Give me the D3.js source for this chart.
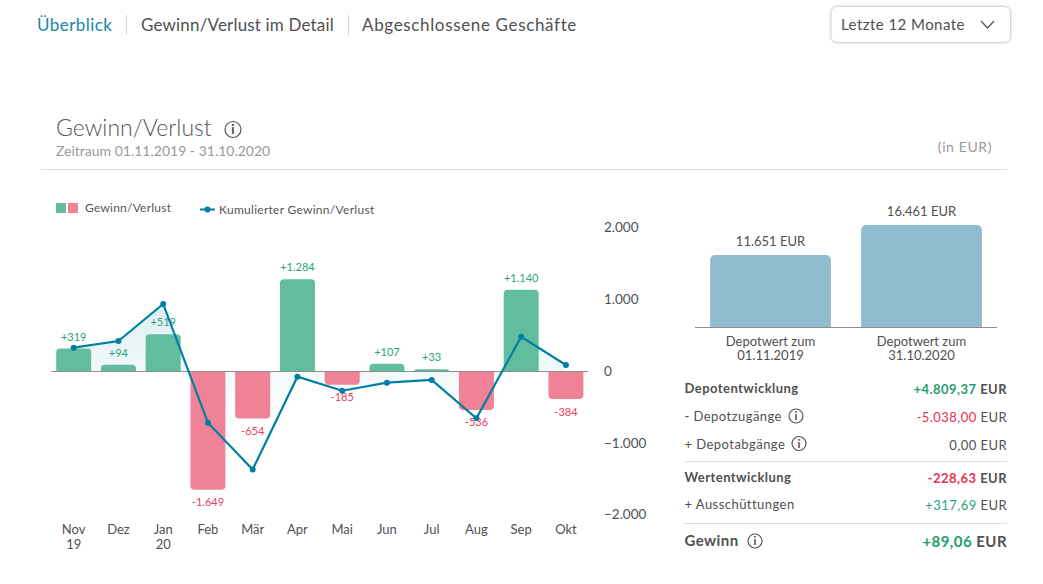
<!DOCTYPE html>
<html>
<head>
<meta charset="utf-8">
<script src="https://cdnjs.cloudflare.com/ajax/libs/d3/7.8.5/d3.min.js"></script>
<style>
  html, body { margin: 0; padding: 0; background: #fff; }
  svg { display: block; font-family: Lato, "Open Sans", sans-serif; }
</style>
</head>
<body>
<svg id="chart" width="1043" height="584"></svg>
<script>
// Data
const months = ["Nov|19", "Dez", "Jan|20", "Feb", "Mär", "Apr", "Mai", "Jun", "Jul", "Aug", "Sep", "Okt"];
const gainLoss = [319, 94, 519, -1649, -654, 1284, -185, 107, 33, -536, 1140, -384];
const cumulated = [332, 425, 941, -713, -1366, -72, -268, -156, -118, -652, 485, 91];
const yTicks = [2000, 1000, 0, -1000, -2000];
const yTickLabels = ["2.000", "1.000", "0", "−1.000", "−2.000"];

const depotLabels = ["Depotwert zum|01.11.2019", "Depotwert zum|31.10.2020"];
const depotValues = [11651, 16461];

const tabs = ["Überblick", "Gewinn/Verlust im Detail", "Abgeschlossene Geschäfte"];

const rowLabels = ["Depotentwicklung", "- Depotzugänge", "+ Depotabgänge", "Wertentwicklung", "+ Ausschüttungen", "Gewinn"];
const rowAmounts = ["+4.809,37", "-5.038,00", "0,00", "-228,63", "+317,69", "+89,06"];

const GREEN = "#62bd9e", RED = "#f08295", BLUE = "#007fa3", TEXT = "#505050", GREY = "#8e8e8e";
const TXT_GREEN = "#2ba37a", TXT_RED = "#e8405c";

const svg = d3.select("#chart");
const de = d3.formatLocale({ decimal: ",", thousands: ".", grouping: [3], currency: ["", " EUR"], minus: "-" });
const signed = de.format("+,d");

function label(x, y, str, size, color, anchor, weight) {
  return svg.append("text")
    .attr("x", x).attr("y", y).text(str)
    .attr("font-size", size).attr("fill", color)
    .attr("text-anchor", anchor || "start")
    .attr("font-weight", weight || 400);
}

function infoIcon(cx, cy, r) {
  svg.append("circle").attr("cx", cx).attr("cy", cy).attr("r", r)
    .attr("fill", "none").attr("stroke", "#555").attr("stroke-width", 1.2);
  label(cx, cy + r * 0.6, "i", r * 1.6, "#444", "middle", 700);
}

// header
const tabX = [37, 141, 362];
const tabSpacing = [0.45, 0.17, 0.65];
tabs.forEach((t, i) => label(tabX[i], 31, t, 17, i === 0 ? "#1a87a8" : TEXT).attr("letter-spacing", tabSpacing[i]));
[126.5, 348.5].forEach(x => svg.append("line").attr("x1", x).attr("x2", x).attr("y1", 15).attr("y2", 35).attr("stroke", "#d5d5d5"));

svg.append("rect").attr("x", 831).attr("y", 6.5).attr("width", 179.5).attr("height", 36).attr("rx", 6)
  .attr("fill", "#fff").attr("stroke", "#d8d8d8").style("filter", "drop-shadow(0 0 1px #ccc)");
label(841, 30, "Letzte 12 Monate", 15, TEXT).attr("letter-spacing", 0.45);
svg.append("path").attr("d", "M981,21 L987.5,28 L994,21").attr("fill", "none").attr("stroke", "#555").attr("stroke-width", 1.2);

// title block
label(56, 136, "Gewinn/Verlust", 23, "#555", "start", 300);
infoIcon(233, 129.5, 8);
label(56, 156, "Zeitraum 01.11.2019 - 31.10.2020", 14, "#999");
label(992, 152, "(in EUR)", 14, "#999", "end").attr("letter-spacing", 0.6);
svg.append("line").attr("x1", 41).attr("x2", 1007).attr("y1", 169.5).attr("y2", 169.5).attr("stroke", "#ddd");

// legend
svg.append("rect").attr("x", 56).attr("y", 203).attr("width", 10).attr("height", 10).attr("fill", GREEN);
svg.append("rect").attr("x", 68).attr("y", 203).attr("width", 10).attr("height", 10).attr("fill", RED);
label(85, 212, "Gewinn/Verlust", 12, "#555").attr("letter-spacing", 0.22);
svg.append("line").attr("x1", 200).attr("x2", 215).attr("y1", 209.5).attr("y2", 209.5).attr("stroke", BLUE).attr("stroke-width", 2);
svg.append("circle").attr("cx", 207.5).attr("cy", 209.5).attr("r", 3).attr("fill", BLUE);
label(219, 214, "Kumulierter Gewinn/Verlust", 12, "#555").attr("letter-spacing", 0.28);

// main chart
const x = d3.scaleBand().domain(months).range([51.3, 588.3]).paddingInner(0.218).paddingOuter(0.109);
const y = d3.scaleLinear().domain([-2000, 2000]).range([515, 228]);
const cx = (m) => x(m) + x.bandwidth() / 2;

const grad = svg.append("defs").append("linearGradient").attr("id", "areaFill")
  .attr("gradientUnits", "userSpaceOnUse")
  .attr("x1", 0).attr("x2", 0).attr("y1", y(d3.max(cumulated))).attr("y2", y(-600));
grad.append("stop").attr("offset", 0).attr("stop-color", BLUE).attr("stop-opacity", 0.13);
grad.append("stop").attr("offset", 1).attr("stop-color", BLUE).attr("stop-opacity", 0);

const area = d3.area().x((d, i) => cx(months[i])).y0(y(0)).y1(d => y(d));
svg.append("path").datum(cumulated).attr("d", area).attr("fill", "url(#areaFill)");

// bars with the outer corners rounded
function barPath(m, v) {
  const l = x(m), r = l + x.bandwidth(), b = y(0), t = y(v);
  const rad = Math.min(4, Math.abs(b - t));
  const s = v >= 0 ? 1 : 0;
  const e = v >= 0 ? t + rad : t - rad;
  return `M${l},${b}L${l},${e}A${rad},${rad} 0 0 ${s} ${l + rad},${t}L${r - rad},${t}A${rad},${rad} 0 0 ${s} ${r},${e}L${r},${b}Z`;
}
svg.selectAll(".bar").data(gainLoss).join("path").attr("class", "bar")
  .attr("d", (d, i) => barPath(months[i], d))
  .attr("fill", d => d >= 0 ? GREEN : RED);

svg.selectAll(".val").data(gainLoss).join("text").attr("class", "val")
  .attr("x", (d, i) => cx(months[i]))
  .attr("y", d => d >= 0 ? y(d) - 8 : y(d) + 16.5)
  .attr("text-anchor", "middle").attr("font-size", 11)
  .attr("fill", d => d >= 0 ? TXT_GREEN : TXT_RED)
  .text(d => d >= 0 ? signed(d) : de.format(",d")(d));

svg.append("line").attr("x1", 51).attr("x2", 588).attr("y1", y(0)).attr("y2", y(0)).attr("stroke", GREY).attr("stroke-width", 1);

const line = d3.line().x((d, i) => cx(months[i])).y(d => y(d));
svg.append("path").datum(cumulated).attr("d", line).attr("fill", "none").attr("stroke", BLUE).attr("stroke-width", 2.2);
svg.selectAll(".pt").data(cumulated).join("circle").attr("class", "pt")
  .attr("cx", (d, i) => cx(months[i])).attr("cy", d => y(d)).attr("r", 3).attr("fill", BLUE);

// y axis on the right
const yAxis = svg.append("g").attr("transform", "translate(604,-0.5)")
  .call(d3.axisRight(y).tickValues(yTicks).tickSize(0).tickPadding(0).tickFormat((d, i) => yTickLabels[i]));
yAxis.select(".domain").remove();
yAxis.selectAll("text").attr("font-size", 13.5).attr("font-family", "Lato").attr("fill", TEXT).attr("dy", "0.32em");

// x axis labels, second line holds the year
const xAxis = svg.append("g").attr("transform", "translate(0,524)")
  .call(d3.axisBottom(x).tickSize(0).tickPadding(0).tickFormat(""));
xAxis.select(".domain").remove();
xAxis.selectAll(".tick").each(function (m) {
  const t = d3.select(this).select("text").text(null).attr("y", 0).attr("dy", null)
    .attr("font-size", 13).attr("font-family", "Lato").attr("fill", TEXT);
  m.split("|").forEach((part, i) => t.append("tspan").attr("x", 0).attr("y", 10 + i * 15).text(part));
});

// depot bars
const dx = d3.scaleBand().domain(depotLabels).range([695, 997]).paddingInner(0.2).paddingOuter(0.1);
const dy = d3.scaleLinear().domain([0, d3.max(depotValues)]).range([327.5, 225]);
function depotPath(m, v) {
  const l = dx(m), r = l + dx.bandwidth(), b = dy(0), t = dy(v), rad = 5;
  return `M${l},${b}L${l},${t + rad}A${rad},${rad} 0 0 1 ${l + rad},${t}L${r - rad},${t}A${rad},${rad} 0 0 1 ${r},${t + rad}L${r},${b}Z`;
}
svg.selectAll(".depot").data(depotValues).join("path").attr("class", "depot")
  .attr("d", (d, i) => depotPath(depotLabels[i], d)).attr("fill", "#91bcd0");
svg.append("line").attr("x1", 695).attr("x2", 997).attr("y1", 327.5).attr("y2", 327.5).attr("stroke", GREY);
depotValues.forEach((v, i) => {
  const mid = dx(depotLabels[i]) + dx.bandwidth() / 2;
  label(mid, dy(v) - 9, de.format(",d")(v) + " EUR", 13, TEXT, "middle");
  depotLabels[i].split("|").forEach((part, j) => label(mid, 346 + j * 14, part, 13, TEXT, "middle"));
});

// summary table
const rowY = [393, 421, 449, 482, 509, 546];
const rowBold = [true, false, false, true, false, true];
const rowSize = [13, 13, 13, 13, 13, 15];
const rowColor = ["#1f9d6e", "#e8304f", TEXT, "#e8304f", TXT_GREEN, "#1f9d6e"];
rowLabels.forEach((t, i) => {
  label(684.5, rowY[i], t, rowSize[i], TEXT, "start", rowBold[i] ? 700 : 400).attr("letter-spacing", 0.45);
  const v = label(1007, rowY[i] + 1, "", rowSize[i], TEXT, "end", rowBold[i] ? 700 : 400).attr("letter-spacing", 0.45);
  v.append("tspan").attr("fill", rowColor[i]).text(rowAmounts[i]);
  v.append("tspan").text(" EUR");
});
infoIcon(796, 416, 7);
infoIcon(799, 443.5, 7);
infoIcon(755, 541, 7);
[461.5, 523.5].forEach(ly => svg.append("line").attr("x1", 685).attr("x2", 1007).attr("y1", ly).attr("y2", ly).attr("stroke", "#ddd"));
</script>
</body>
</html>
